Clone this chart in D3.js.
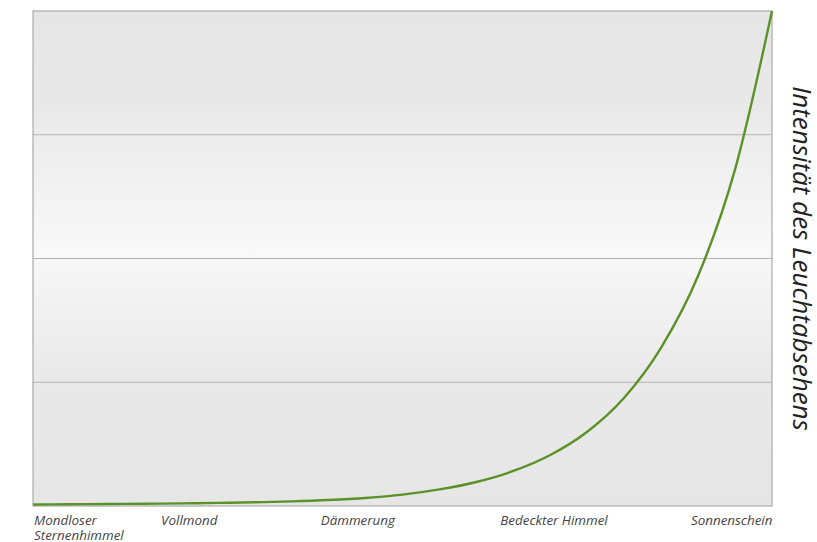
<!DOCTYPE html>
<html>
<head>
<meta charset="utf-8">
<script src="https://d3js.org/d3.v7.min.js"></script>
<style>
  body { margin: 0; background: #fff; }
  text { font-family: "Open Sans", sans-serif; font-style: italic; }
</style>
</head>
<body>
<div id="chart"></div>
<script>
// categories on the x axis and where along the axis (0-100) each label starts
var categories = ["Mondloser\nSternenhimmel", "Vollmond", "Dämmerung", "Bedeckter Himmel", "Sonnenschein"];
var categoryAt = [0, 17.2, 38.8, 63.1, 88.9];

// intensity curve (x 0-100, y in gridline units 0-4)
var curveX = [0, 5, 10, 15, 20, 25, 30, 35, 40, 45, 50, 55, 60, 65, 70, 75, 80, 85, 90, 95, 100];
var curveY = [0.012, 0.014, 0.016, 0.018, 0.021, 0.025, 0.03, 0.037, 0.048, 0.065, 0.092,
              0.134, 0.194, 0.283, 0.412, 0.60, 0.875, 1.28, 1.86, 2.72, 4.0];

var yTicks = [0, 1, 2, 3, 4];
var yTitle = "Intensität des Leuchtabsehens";

var margin = {top: 11, right: 45, bottom: 36, left: 33},
    width = 817 - margin.left - margin.right,
    height = 542 - margin.top - margin.bottom;

var svg = d3.select("#chart").append("svg")
    .attr("width", 817)
    .attr("height", 542);

var defs = svg.append("defs");
var grad = defs.append("linearGradient")
    .attr("id", "bg")
    .attr("x1", 0).attr("y1", 0).attr("x2", 0).attr("y2", 1);
grad.append("stop").attr("offset", "0%").attr("stop-color", "#e6e6e6");
grad.append("stop").attr("offset", "18%").attr("stop-color", "#e8e8e8");
grad.append("stop").attr("offset", "49.5%").attr("stop-color", "#f9f9f9");
grad.append("stop").attr("offset", "50%").attr("stop-color", "#f7f7f7");
grad.append("stop").attr("offset", "74%").attr("stop-color", "#e9e9e9");
grad.append("stop").attr("offset", "100%").attr("stop-color", "#e6e6e6");

var g = svg.append("g")
    .attr("transform", "translate(" + margin.left + "," + margin.top + ")");

var x = d3.scaleLinear().domain([0, 100]).range([0, width]);
var y = d3.scaleLinear().domain([0, 4]).range([height, 0]);

g.append("rect")
    .attr("width", width)
    .attr("height", height)
    .attr("fill", "url(#bg)");

// horizontal gridlines
g.append("g")
    .selectAll("line")
    .data(yTicks.slice(1, -1))
    .enter()
    .append("line")
    .attr("x1", 0)
    .attr("x2", width)
    .attr("y1", function(d) { return y(d); })
    .attr("y2", function(d) { return y(d); })
    .attr("stroke", "#b3b3b3")
    .attr("stroke-width", 1);

// frame
g.append("rect")
    .attr("width", width)
    .attr("height", height)
    .attr("fill", "none")
    .attr("stroke", "#ababab")
    .attr("stroke-width", 1.2);

var points = curveX.map(function(d, i) { return [d, curveY[i]]; });

var line = d3.line()
    .x(function(d) { return x(d[0]); })
    .y(function(d) { return y(d[1]); })
    .curve(d3.curveMonotoneX);

g.append("path")
    .datum(points)
    .attr("d", line)
    .attr("fill", "none")
    .attr("stroke", "#5a9228")
    .attr("stroke-width", 2.4);

// x labels
var labels = g.append("g")
    .selectAll("text")
    .data(categories)
    .enter()
    .append("text")
    .attr("x", function(d, i) { return x(categoryAt[i]) + 1; })
    .attr("y", height + 19)
    .attr("fill", "#444")
    .style("font-size", "13.4px");

labels.each(function(d) {
    var t = d3.select(this);
    d.split("\n").forEach(function(part, j) {
        t.append("tspan")
            .attr("x", t.attr("x"))
            .attr("dy", j === 0 ? 0 : 14.5)
            .text(part);
    });
});

// y title on the right, reading downwards
svg.append("text")
    .attr("transform", "translate(" + 793 + "," + (margin.top + height / 2) + ") rotate(90)")
    .attr("text-anchor", "middle")
    .attr("fill", "#222")
    .style("font-size", "26px")
    .text(yTitle);
</script>
</body>
</html>
